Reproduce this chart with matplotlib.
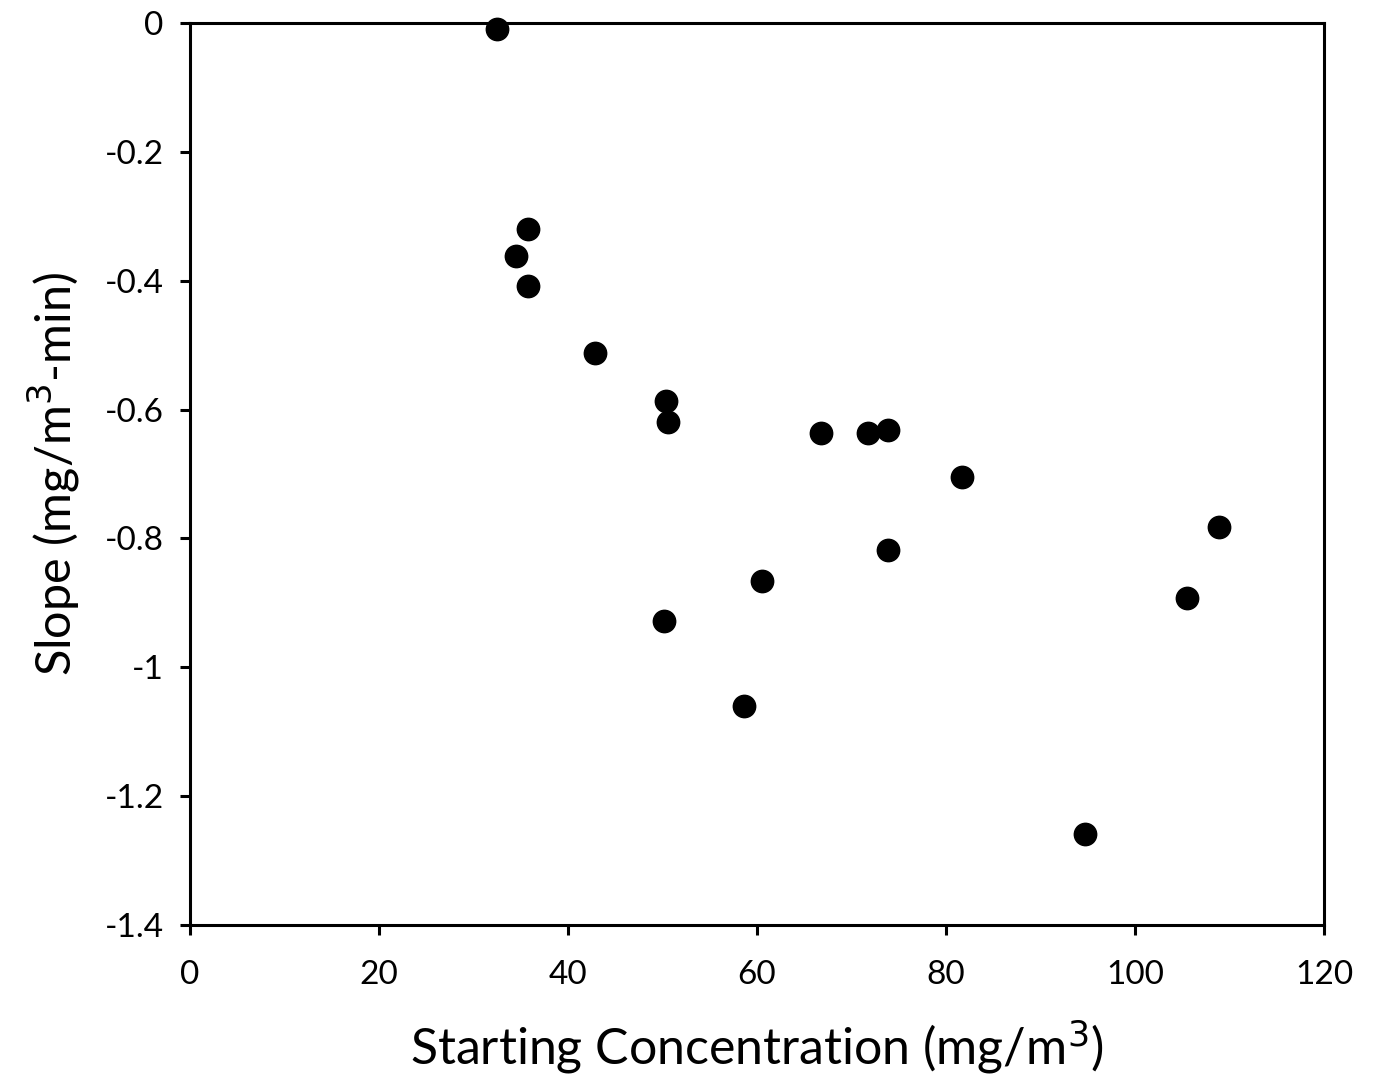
import matplotlib
matplotlib.use("Agg")
import matplotlib.pyplot as plt

plt.rcParams['font.family'] = ['Lato', 'DejaVu Sans']

start_conc = [32.5, 35.8, 34.5, 35.8, 42.9, 50.4, 50.6, 66.8, 71.7, 73.9,
              81.7, 108.9, 73.9, 60.5, 105.5, 50.2, 58.6, 94.7]
slope = [-0.009, -0.320, -0.362, -0.408, -0.512, -0.587, -0.619, -0.636, -0.636, -0.632,
         -0.705, -0.782, -0.818, -0.866, -0.892, -0.928, -1.060, -1.259]

xticks = [0, 20, 40, 60, 80, 100, 120]
yticks = [0, -0.2, -0.4, -0.6, -0.8, -1, -1.2, -1.4]
ytick_labels = ['0', '-0.2', '-0.4', '-0.6', '-0.8', '-1', '-1.2', '-1.4']

fig = plt.figure(figsize=(13.73, 10.79), dpi=100)
ax = fig.add_axes([0.1384, 0.1427, 0.8259, 0.836])
ax.scatter(start_conc, slope, s=260, color='black', zorder=3, clip_on=False)
ax.set_xlim(0, 120)
ax.set_ylim(-1.4, 0)
ax.set_xticks(xticks)
ax.set_xticklabels([str(t) for t in xticks])
ax.set_yticks(yticks)
ax.set_yticklabels(ytick_labels)
for s in ax.spines.values():
    s.set_linewidth(2.2)
    s.set_color('black')
ax.tick_params(direction='out', length=7, width=2.2, labelsize=24, pad=12, colors='black')
ax.tick_params(axis='x', pad=18)
ax.set_xlabel('Starting Concentration (mg/m$^{3}$)', fontsize=36, labelpad=20)
ax.set_ylabel('Slope (mg/m$^{3}$-min)', fontsize=35, labelpad=16)
fig.savefig('out.png', dpi=100, facecolor='white')
